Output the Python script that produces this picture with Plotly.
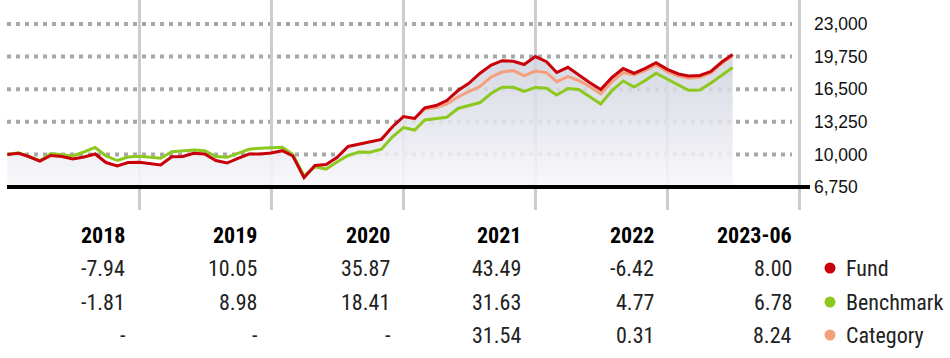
import plotly.graph_objects as go
import pandas as pd

# ---- data ----
try:
    dates = pd.date_range("2017-12-31", periods=67, freq="ME")
except Exception:
    dates = pd.date_range("2017-12-31", periods=67, freq="M")

fund = [10000, 10110, 9790, 9340, 9890, 9790, 9540, 9740, 10040, 9190, 8840, 9190,
        9206, 9060, 8940, 9770, 9790, 10110, 10040, 9390, 9140, 9610, 10040, 10040,
        10131, 10370, 9840, 7680, 8890, 8990, 9690, 10790, 11040, 11270, 11500, 12730,
        13765, 13580, 14650, 14870, 15370, 16370, 17090, 18090, 18910, 19340, 19290, 18960,
        19751, 19240, 18160, 18680, 17920, 17150, 16470, 17670, 18560, 18090, 18580, 19140,
        18483, 18020, 17820, 17870, 18260, 19210, 19962]

benchmark = [10000, 10170, 9770, 9370, 10090, 9940, 9840, 10240, 10690, 9840, 9390, 9740,
             9819, 9710, 9610, 10270, 10370, 10440, 10370, 9790, 9710, 10110, 10510, 10620,
             10701, 10710, 9990, 7850, 8770, 8540, 9240, 9890, 10240, 10210, 10510, 11730,
             12671, 12430, 13430, 13600, 13700, 14580, 14850, 15170, 16090, 16690, 16690, 16270,
             16679, 16590, 15920, 16570, 16470, 15750, 15020, 16370, 17320, 16720, 17370, 18090,
             17474, 16920, 16390, 16420, 17090, 17920, 18659]

category = [None] * 36 + [
    13765, 13560, 14530, 14680, 15020, 15720, 16270, 16770, 17720, 18210, 18360, 17820,
    18310, 18140, 17250, 17750, 17370, 16750, 16040, 17250, 18160, 17920, 18340, 18910,
    18240, 17820, 17590, 17690, 18090, 19080, 19810]

y_ticks = [6750, 10000, 13250, 16500, 19750, 23000]
grid_years = ["2019-01-01", "2020-01-01", "2021-01-01", "2022-01-01", "2023-01-01", "2024-01-01"]

table_years = ["2018", "2019", "2020", "2021", "2022", "2023-06"]
fund_ret = ["-7.94", "10.05", "35.87", "43.49", "-6.42", "8.00"]
bench_ret = ["-1.81", "8.98", "18.41", "31.63", "4.77", "6.78"]
cat_ret = ["-", "-", "-", "31.54", "0.31", "8.24"]
series_names = ["Fund", "Benchmark", "Category"]

# ---- style ----
C_FUND = "#c8000a"
C_BENCH = "#8cc81e"
C_CAT = "#f5a07c"
COND = "Roboto, sans-serif"
W, H = 950, 358
ML, MR, MT, MB = 7, 140, 0, 148
PW, PH = W - ML - MR, H - MT - MB


def cond(txt, bold=False):
    inner = f"<b>{txt}</b>" if bold else txt
    return f'<span style="font-stretch:condensed">{inner}</span>'


fig = go.Figure()

base = y_ticks[0]
fig.add_trace(go.Scatter(x=dates, y=[base] * len(dates), mode="lines",
                         line=dict(width=0), hoverinfo="skip", showlegend=False))
fig.add_trace(go.Scatter(x=dates, y=fund, mode="lines", line=dict(width=0),
                         fill="tonexty",
                         fillgradient=dict(type="vertical",
                                           colorscale=[[0, "rgba(248,248,251,0.9)"],
                                                       [1, "rgba(205,208,220,0.85)"]],
                                           start=base, stop=20500),
                         hoverinfo="skip", showlegend=False))

fig.add_trace(go.Scatter(x=dates, y=benchmark, mode="lines", name="Benchmark",
                         line=dict(color=C_BENCH, width=3), showlegend=False))
fig.add_trace(go.Scatter(x=dates, y=category, mode="lines", name="Category",
                         line=dict(color=C_CAT, width=3), showlegend=False))
fig.add_trace(go.Scatter(x=dates, y=fund, mode="lines", name="Fund",
                         line=dict(color=C_FUND, width=3), showlegend=False))

shapes = []
for v in y_ticks[1:]:
    shapes.append(dict(type="line", xref="paper", yref="y", x0=0, x1=(792 - ML) / PW,
                       y0=v, y1=v, line=dict(color="#a8a8a8", width=4, dash="4px,5px"),
                       layer="below"))
shapes.append(dict(type="line", xref="paper", yref="y", x0=0, x1=1.0,
                   y0=base, y1=base, line=dict(color="#000000", width=4), layer="above"))

annotations = []
col_px = [127, 259, 392, 523, 656, 794]
row_px = [235, 268, 302, 335]
rows = [table_years, fund_ret, bench_ret, cat_ret]
for r, (vals, ry) in enumerate(zip(rows, row_px)):
    for c, txt in enumerate(vals):
        annotations.append(dict(
            xref="paper", yref="paper",
            x=(col_px[c] - ML) / PW, y=(PH - (ry - MT)) / PH,
            xanchor="right", yanchor="middle", showarrow=False,
            text=cond(txt, bold=(r == 0)),
            font=dict(family=COND, size=22, color="#000" if r == 0 else "#222")))

for name, col, ry in zip(series_names, [C_FUND, C_BENCH, C_CAT], row_px[1:]):
    yp = (PH - (ry - MT)) / PH
    cx = (830 - ML) / PW
    shapes.append(dict(type="circle", xref="paper", yref="paper",
                       x0=cx - 5.5 / PW, x1=cx + 5.5 / PW,
                       y0=yp - 5.5 / PH, y1=yp + 5.5 / PH,
                       fillcolor=col, line=dict(width=0)))
    annotations.append(dict(xref="paper", yref="paper", x=(844 - ML) / PW, y=yp,
                            xanchor="left", yanchor="middle", showarrow=False,
                            text=cond(name),
                            font=dict(family=COND, size=22, color="#222")))

fig.update_layout(
    width=W, height=H,
    margin=dict(l=ML, r=MR, t=MT, b=MB, pad=0, autoexpand=False),
    paper_bgcolor="white", plot_bgcolor="white",
    showlegend=False, hovermode=False,
    shapes=shapes, annotations=annotations,
    xaxis=dict(range=["2017-12-30", "2024-01-30"], tickvals=grid_years,
               showticklabels=False, showgrid=True, gridcolor="#cccccc", gridwidth=3,
               zeroline=False, showline=False, ticks=""),
    yaxis=dict(range=[4457, 25393], tickvals=y_ticks,
               ticktext=[f"{v:,}" for v in y_ticks], side="right",
               showgrid=False, zeroline=False, showline=False, ticks="",
               ticklabelstandoff=3,
               tickfont=dict(family="Liberation Sans, Arial, sans-serif", size=17.5,
                             color="#111")),
)

fig.write_html("out.html", config={"displayModeBar": False},
               post_script="document.body.style.margin='0';document.body.style.overflow='hidden';")
